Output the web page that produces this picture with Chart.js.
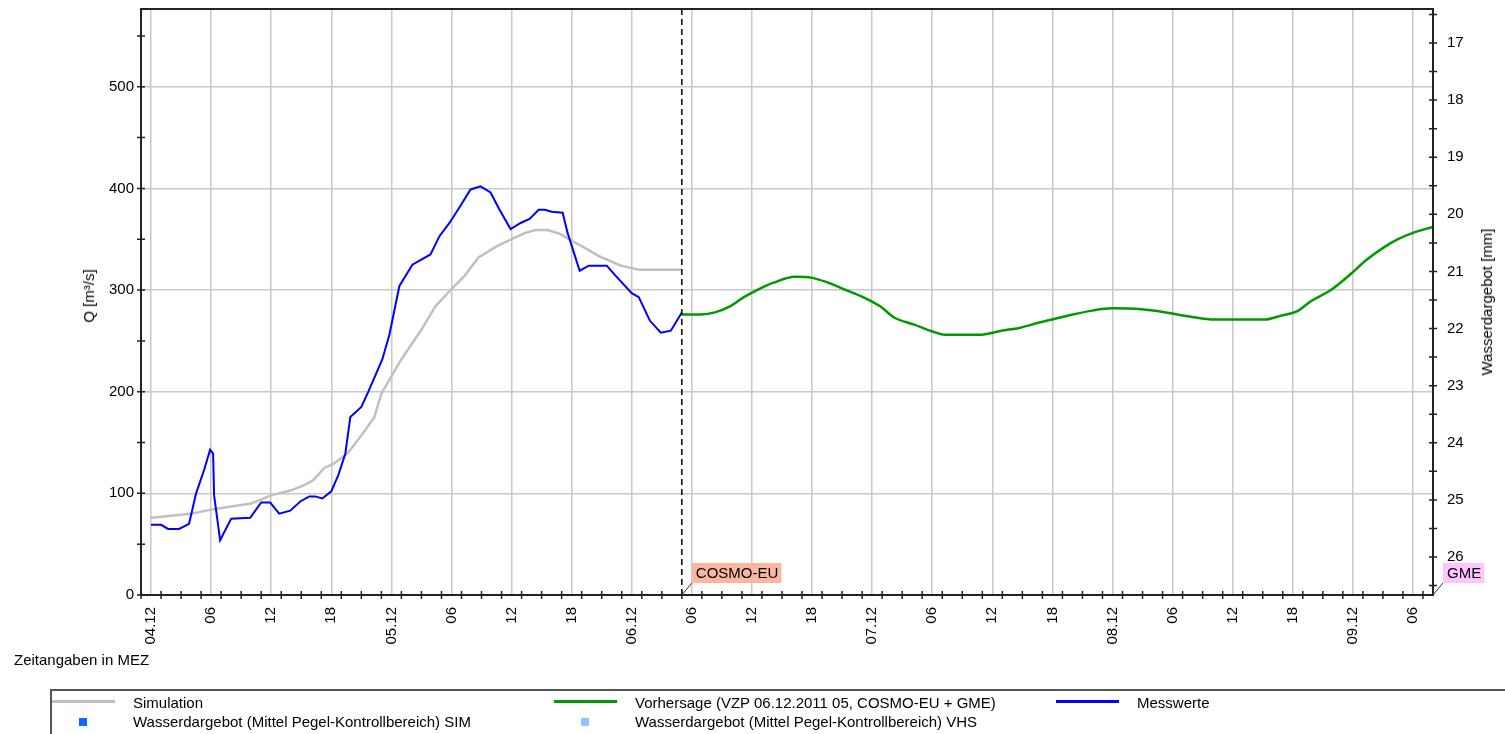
<!DOCTYPE html>
<html><head><meta charset="utf-8">
<script src="https://cdn.jsdelivr.net/npm/chart.js@4/dist/chart.umd.min.js"></script>
<style>
html,body{margin:0;padding:0;background:#fff;overflow:hidden;}
body{width:1505px;height:734px;position:relative;font-family:"Liberation Sans",Arial,sans-serif;font-size:15px;color:#000;}
#c{position:absolute;left:0;top:0;}
.t{position:absolute;white-space:nowrap;line-height:18px;}
.rot{transform:translate(-50%,-50%) rotate(-90deg);}
#legendFrame{position:absolute;left:50px;top:689px;width:1500px;height:80px;border-top:2px solid #555;border-left:2px solid #555;}
.li{position:absolute;height:19px;line-height:19px;white-space:nowrap;}
.mk{position:absolute;}
</style></head><body>
<canvas id="c" width="1505" height="734"></canvas>
<div class="t rot" style="left:89px;top:296px">Q [m³/s]</div>
<div class="t rot" style="left:1487px;top:302px">Wasserdargebot [mm]</div>
<div class="t" style="left:14px;top:651px">Zeitangaben in MEZ</div>
<div id="legendFrame"></div>
<div id="legend"></div>
<script>
// ---- data (hours since 04.12 00:00 MEZ) ----
const xTickLabels = ['04.12','06','12','18','05.12','06','12','18','06.12','06','12','18','07.12','06','12','18','08.12','06','12','18','09.12','06'];
const yTickLabels = [0,100,200,300,400,500];
const y2TickLabels = [17,18,19,20,21,22,23,24,25,26];
const forecastStartHour = 53;

const simHours  = [0,2,4,6,8,10,12,14,15.3,16.2,17.3,18.2,19.6,21,22.3,23,24,25,27,28.4,29.8,31.3,32.7,34.5,36,37.3,38.4,39.6,40.9,41.9,43.4,44.8,46.9,48.7,53];
const simValues = [76,78,80,84,87,90,98,103,108,113,125,129,139,157,175,198,215,232,261,284,299,314,332,343,350,356,359,359,355,349,341,333,324,320,320];

const measHours  = [0,1,1.7,2.8,3.8,4.5,5.3,5.9,6.2,6.3,6.9,8,9.9,11,11.9,12.8,13.9,14.9,15.8,16.4,17.1,18,18.7,19.4,19.9,21,21.7,22.4,23.1,23.8,24.8,26.1,27.9,28.8,29.8,30.9,31.9,32.9,33.9,34.8,35.9,36.9,37.8,38.7,39.3,40,41.1,41.6,42.8,43.7,45.5,46.4,48,48.7,49.8,50.9,51.9,53];
const measValues = [69,69,65,65,70,100,123,143,139,98,54,75,76,91,91,80,83,92,97,97,95,102,118,139,175,185,200,216,232,256,304,325,335,353,366,383,399,402,396,379,360,366,370,379,379,377,376,356,319,324,324,314,297,293,270,258,260,278];

const fcHours  = [53,54.9,56.3,57.8,59.2,60.7,62.1,64.3,66,67.4,69.4,71.1,72.8,74.2,76.2,78.1,79.3,82.7,84.9,86.8,88.7,91.2,94.1,96,98.9,101.3,103.7,106.2,111.2,112.9,114.4,115.8,117.8,119.7,121.4,123.1,124.5,126.2,128];
const fcValues = [276,276,278,284,293,301,307,313,312,308,300,293,284,273,266,259,256,256,260,263,268,274,280,282,281,278,274,271,271,275,279,289,300,315,330,342,350,357,362];

const pts = (hs, vs) => hs.map((h, i) => ({x: h, y: vs[i]}));

Chart.defaults.font.family = '"Liberation Sans", Arial, sans-serif';
Chart.defaults.font.size = 15;
Chart.defaults.color = '#000';

const gridGray = '#c8c8c8';

const framePlugin = {
  id: 'frame',
  afterDatasetsDraw(chart) {
    const {ctx, chartArea: a, scales} = chart;
    const x = scales.x, y = scales.y, y2 = scales.y2;
    ctx.save();
    // forecast start line
    const fx = x.getPixelForValue(forecastStartHour);
    ctx.strokeStyle = '#000'; ctx.lineWidth = 1.5; ctx.setLineDash([6, 4]);
    ctx.beginPath(); ctx.moveTo(fx, a.top); ctx.lineTo(fx, a.bottom); ctx.stroke();
    ctx.setLineDash([]);
    // frame
    ctx.strokeStyle = '#222'; ctx.lineWidth = 2;
    ctx.strokeRect(a.left, a.top, a.right - a.left, a.bottom - a.top);
    // crossing tick marks
    ctx.lineWidth = 1.5;
    ctx.beginPath();
    y.ticks.forEach(t => { const p = y.getPixelForValue(t.value); ctx.moveTo(a.left - 4, p); ctx.lineTo(a.left + 4, p); });
    y2.ticks.forEach(t => { const p = y2.getPixelForValue(t.value); ctx.moveTo(a.right - 4, p); ctx.lineTo(a.right + 4, p); });
    for (let h = x.min; h < x.max; h += 2) { const p = x.getPixelForValue(h); ctx.moveTo(p, a.bottom - 4); ctx.lineTo(p, a.bottom + 4); }
    ctx.stroke();
    ctx.restore();
  },
  afterDraw(chart) {
    const {ctx, chartArea: a, scales: {x}} = chart;
    const tag = (text, ax, bg) => {
      ctx.save();
      ctx.font = '15px "Liberation Sans", Arial, sans-serif';
      const w = ctx.measureText(text).width + 7, h = 20;
      const bx = ax + 10, by = a.bottom - 12 - h;
      ctx.strokeStyle = '#333'; ctx.lineWidth = 1;
      ctx.beginPath(); ctx.moveTo(ax, a.bottom); ctx.lineTo(bx, by + h); ctx.stroke();
      ctx.fillStyle = bg; ctx.fillRect(bx, by, w, h);
      ctx.fillStyle = '#000'; ctx.textBaseline = 'middle';
      ctx.fillText(text, bx + 4, by + h / 2 + 1);
      ctx.restore();
    };
    tag('COSMO-EU', x.getPixelForValue(forecastStartHour), '#f9b89e');
    tag('GME', a.right, '#ffc4ff');
  }
};

const noPad = s => { s.paddingTop = 0; s.paddingBottom = 0; s.paddingLeft = 0; s.paddingRight = 0; };

const chart = new Chart(document.getElementById('c'), {
  type: 'line',
  data: {
    datasets: [
      {label: 'Simulation', data: pts(simHours, simValues), borderColor: '#c0c0c0', backgroundColor: '#c0c0c0', borderWidth: 2.5, order: 2, yAxisID: 'y'},
      {label: 'Vorhersage (VZP 06.12.2011 05, COSMO-EU + GME)', data: pts(fcHours, fcValues), borderColor: '#009a00', backgroundColor: '#009a00', borderWidth: 2.5, order: 1, cubicInterpolationMode: 'monotone', yAxisID: 'y'},
      {label: 'Messwerte', data: pts(measHours, measValues), borderColor: '#0000ff', backgroundColor: '#0000ff', borderWidth: 2, order: 0, yAxisID: 'y'},
      {label: 'Wasserdargebot (Mittel Pegel-Kontrollbereich) SIM', data: [], borderColor: '#0a6cff', backgroundColor: '#0a6cff', showLine: false, yAxisID: 'y2'},
      {label: 'Wasserdargebot (Mittel Pegel-Kontrollbereich) VHS', data: [], borderColor: '#8cc4ff', backgroundColor: '#8cc4ff', showLine: false, yAxisID: 'y2'}
    ]
  },
  options: {
    responsive: false, animation: false, devicePixelRatio: 1,
    layout: {padding: {top: 9, left: 0, right: 0, bottom: 0}},
    elements: {point: {radius: 0}, line: {tension: 0}},
    plugins: {legend: {display: false}, tooltip: {enabled: false}},
    scales: {
      x: {
        type: 'linear', min: -1, max: 128,
        afterBuildTicks: s => { s.ticks = xTickLabels.map((l, i) => ({value: i * 6})); },
        ticks: {autoSkip: false, maxRotation: 90, minRotation: 90, padding: 12, callback: (v, i) => xTickLabels[i]},
        grid: {color: gridGray, lineWidth: 1.5, drawTicks: false},
        border: {display: false},
        afterFit: s => { s.height = 139; noPad(s); }
      },
      y: {
        position: 'left', min: 0, max: 576.5,
        afterBuildTicks: s => { const t = []; for (let v = 0; v <= 550; v += 50) t.push({value: v}); s.ticks = t; },
        ticks: {padding: 7, callback: v => yTickLabels.includes(v) ? String(v) : ''},
        grid: {drawTicks: false, lineWidth: 1.5, color: c => (c.tick && c.tick.value > 0 && yTickLabels.includes(c.tick.value)) ? gridGray : 'rgba(0,0,0,0)'},
        border: {display: false},
        afterFit: s => { s.width = 141; noPad(s); }
      },
      y2: {
        position: 'right', display: true, min: 16.405, max: 26.665, reverse: true,
        afterBuildTicks: s => { const t = []; for (let v = 16.5; v <= 26.5; v += 0.5) t.push({value: v}); s.ticks = t; },
        ticks: {padding: 14, callback: v => y2TickLabels.includes(v) ? String(v) : ''},
        grid: {display: false, drawTicks: false},
        border: {display: false},
        afterFit: s => { s.width = 72; noPad(s); }
      }
    }
  },
  plugins: [framePlugin]
});

// HTML legend built from the datasets
(function () {
  const lg = document.getElementById('legend');
  const textX = [133, 635, 1137];
  const rowY = [703, 722];
  chart.data.datasets.forEach((ds, i) => {
    const r = Math.floor(i / 3), c = i % 3;
    const mk = document.createElement('div');
    mk.className = 'mk';
    if (ds.showLine === false) {
      mk.style.cssText = `left:${textX[c] - 54}px;top:${rowY[r] - 4}px;width:8px;height:8px;background:${ds.backgroundColor}`;
    } else {
      mk.style.cssText = `left:${textX[c] - 81}px;top:${rowY[r] - 3}px;width:63px;height:3px;background:${ds.borderColor}`;
    }
    lg.appendChild(mk);
    const t = document.createElement('div');
    t.className = 'li';
    t.style.left = textX[c] + 'px';
    t.style.top = (rowY[r] - 10) + 'px';
    t.textContent = ds.label;
    lg.appendChild(t);
  });
})();
</script>
</body></html>
